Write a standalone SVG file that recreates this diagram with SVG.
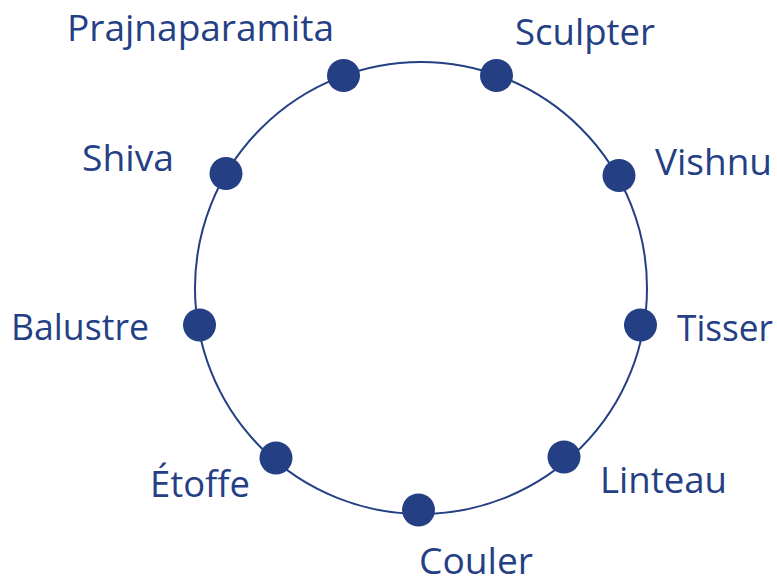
<svg xmlns="http://www.w3.org/2000/svg" width="777" height="585" viewBox="0 0 777 585">
<style>
.lbl{font-family:"Open Sans","Noto Sans","DejaVu Sans",sans-serif;font-size:37px;fill:#243f84}
.dot{fill:#243f84}
.ring{fill:none;stroke:#243f84;stroke-width:2}
</style>
<rect width="777" height="585" fill="#ffffff"/>
<g id="connectors">
<circle class="ring" cx="421" cy="288" r="226"/>
</g>
<g id="node-prajnaparamita"><circle class="dot" cx="343.5" cy="75.5" r="16.5"/><text class="lbl" x="67" y="41" textLength="267" lengthAdjust="spacingAndGlyphs">Prajnaparamita</text></g>
<g id="node-sculpter"><circle class="dot" cx="496.5" cy="75.5" r="16.5"/><text class="lbl" x="515" y="45" textLength="140" lengthAdjust="spacingAndGlyphs">Sculpter</text></g>
<g id="node-shiva"><circle class="dot" cx="226" cy="173.5" r="16.5"/><text class="lbl" x="82" y="171" textLength="92" lengthAdjust="spacingAndGlyphs">Shiva</text></g>
<g id="node-vishnu"><circle class="dot" cx="619" cy="175.5" r="16.5"/><text class="lbl" x="655" y="175" textLength="117" lengthAdjust="spacingAndGlyphs">Vishnu</text></g>
<g id="node-balustre"><circle class="dot" cx="199.5" cy="325" r="16.5"/><text class="lbl" x="11" y="340" textLength="138" lengthAdjust="spacingAndGlyphs">Balustre</text></g>
<g id="node-tisser"><circle class="dot" cx="640.5" cy="325" r="16.5"/><text class="lbl" x="677" y="341" textLength="96" lengthAdjust="spacingAndGlyphs">Tisser</text></g>
<g id="node-etoffe"><circle class="dot" cx="276" cy="458" r="16.5"/><text class="lbl" x="150" y="497" textLength="100" lengthAdjust="spacingAndGlyphs">Étoffe</text></g>
<g id="node-linteau"><circle class="dot" cx="564" cy="457" r="16.5"/><text class="lbl" x="600" y="493" textLength="127" lengthAdjust="spacingAndGlyphs">Linteau</text></g>
<g id="node-couler"><circle class="dot" cx="418.5" cy="510" r="16.5"/><text class="lbl" x="419" y="574" textLength="114" lengthAdjust="spacingAndGlyphs">Couler</text></g>
</svg>
